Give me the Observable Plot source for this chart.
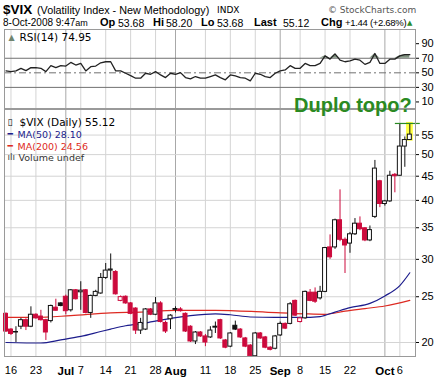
<!DOCTYPE html>
<html>
<head>
<meta charset="utf-8">
<script src="https://cdn.jsdelivr.net/npm/d3@7"></script>
<script src="https://cdn.jsdelivr.net/npm/@observablehq/plot@0.6"></script>
<style>
html,body{margin:0;padding:0;background:#fff;}
#wrap{position:relative;width:448px;height:378px;overflow:hidden;font-family:"Liberation Sans",Arial,sans-serif;color:#000;}
.t{position:absolute;white-space:nowrap;line-height:0.85;}
.b{font-weight:bold;font-size:11px;top:18.1px;}
.v{font-size:10.5px;top:18.5px;}
#rsi{position:absolute;left:0;top:28px;}
#main{position:absolute;left:0;top:108px;}
#rsi svg,#main svg{display:block;overflow:visible;}
</style>
</head>
<body>
<div id="wrap">
  <div class="t" style="left:3px;top:3.9px;font-size:13.5px;font-weight:bold;">$VIX</div>
  <div class="t" style="left:37px;top:5.9px;font-size:10.8px;">(Volatility Index - New Methodology)</div>
  <div class="t" style="left:217px;top:7.3px;font-size:9px;font-family:'DejaVu Sans';">INDX</div>
  <div class="t" style="left:328px;top:7px;font-size:9px;font-family:'DejaVu Sans';color:#555;">© StockCharts.com</div>
  <div class="t" style="left:3px;top:18.8px;font-size:10px;">8-Oct-2008 9:47<span style="font-size:9px">am</span></div>
  <div class="t b" style="left:100px;">Op</div>
  <div class="t v" style="left:118px;">53.68</div>
  <div class="t b" style="left:153px;">Hi</div>
  <div class="t v" style="left:166px;">58.20</div>
  <div class="t b" style="left:201px;">Lo</div>
  <div class="t v" style="left:217px;">53.68</div>
  <div class="t b" style="left:254px;">Last</div>
  <div class="t v" style="left:283px;">55.12</div>
  <div class="t b" style="left:321px;">Chg</div>
  <div class="t v" style="left:345px;font-size:9.5px;letter-spacing:-0.3px;top:19.3px;">+1.44 (+2.68%)</div>
  <div class="t" style="left:407px;top:20.6px;font-size:7px;color:#2a8a2a;font-family:'DejaVu Sans';">▲</div>
  <div id="rsi"></div>
  <div id="main"></div>
  <div class="t" style="left:294px;top:95px;font-size:20px;font-weight:bold;color:#2a8a22;line-height:1;">Duplo topo?</div>
</div>
<script>
// ---- data ----
const opens  = [23.0,21.3,21.05,21.6,22.3,21.6,22.9,22.7,22.3,22.2,23.7,24.2,25.0,23.4,25.8,25.55,25.8,23.1,25.1,25.4,
                27.4,28.4,28.2,24.5,25.0,24.2,23.6,21.2,21.3,23.5,22.9,24.2,22.0,22.4,23.45,23.5,23.0,21.6,20.1,21.0,
                20.6,20.5,21.5,22.3,20.2,19.6,21.7,21.3,20.4,19.7,18.7,20.9,20.5,19.5,19.4,20.7,21.9,21.9,24.5,22.1,
                22.5,25.5,25.5,24.8,25.6,31.8,31.8,36.3,33.0,32.4,33.9,35.7,34.9,32.9,36.9,43.9,39.3,39.8,45.3,45.1,
                52.0,53.68];
const highs  = [23.1,21.4,21.6,22.5,22.45,23.8,23.0,23.4,22.4,24.0,24.7,24.3,25.2,25.9,25.9,26.9,25.9,25.2,25.8,28.0,
                29.4,30.8,28.4,25.1,25.1,24.3,23.7,22.5,23.6,23.6,24.9,24.4,22.2,22.9,23.8,23.7,23.1,21.7,21.1,21.1,
                20.8,21.6,22.1,22.4,20.3,21.0,22.2,21.4,20.5,19.8,21.0,21.0,20.6,19.6,20.7,22.1,22.0,24.3,24.6,22.6,
                25.7,25.9,26.1,26.3,31.8,33.8,36.5,42.1,33.3,34.2,36.6,36.9,35.0,35.3,48.6,44.1,40.0,46.1,45.6,58.2,
                54.5,58.2];
const lows   = [21.0,20.7,20.0,21.3,21.2,21.5,22.4,22.2,20.2,22.0,23.3,23.8,22.9,23.2,24.6,23.4,23.0,22.5,25.0,25.3,
                27.2,27.1,25.2,24.4,24.1,22.9,20.8,20.8,21.2,22.8,22.8,22.0,20.9,21.3,23.1,23.2,21.0,20.0,19.8,20.5,
                19.6,20.4,20.9,20.3,19.4,19.5,21.2,20.4,19.5,18.6,18.6,20.3,19.4,19.2,19.3,20.6,21.3,21.8,22.7,22.0,
                22.4,24.4,24.2,24.6,25.5,30.0,31.5,32.7,28.0,30.9,33.7,34.5,32.7,32.7,36.6,38.6,38.9,39.6,41.5,45.0,
                47.0,53.68];
const closes = [21.1,20.85,21.0,22.3,21.6,22.9,22.5,22.3,21.0,23.9,23.35,23.9,23.3,25.8,24.7,25.75,23.1,25.1,25.6,27.4,
                28.4,28.55,25.3,24.95,24.2,23.0,21.2,22.0,23.5,22.9,24.2,22.1,21.1,22.8,23.55,23.3,21.1,20.1,21.0,20.6,
                20.0,21.2,21.6,20.4,19.5,20.9,21.3,20.5,19.6,18.7,20.9,20.4,19.5,19.3,20.6,21.9,21.4,24.1,22.8,22.5,
                25.6,24.5,24.4,25.6,31.7,30.3,36.3,33.0,32.1,33.9,35.7,34.75,32.9,34.6,46.7,39.3,39.8,45.1,45.0,52.0,
                53.68,55.12];
const priorClose = 23.0;

const rsi14 = [52.6,51.7,52.6,56.2,53.0,57.1,57.0,56.2,51.7,59.8,
               57.1,59.8,59.3,64.3,60.7,62.9,52.6,58.4,59.3,63.8,
               65.2,65.2,52.6,52.6,49.4,46.2,42.6,42.6,49.4,48.0,
               51.7,47.1,43.5,49.4,48.0,50.3,43.5,41.7,44.9,42.6,
               42.6,44.9,47.1,43.5,40.4,47.1,45.8,43.5,42.6,39.0,
               49.4,48.0,44.9,43.5,49.4,52.6,53.9,59.8,56.2,56.2,
               62.9,59.8,59.8,62.9,73.3,68.8,76.0,67.4,65.2,66.5,
               68.8,67.4,61.6,64.3,76.5,62.9,62.9,68.8,68.8,73.3,
               75.1,74.95];

const ma50Idx  = [0,7,11,15,19,21,24,28,33,37,42,45,49,54,59,63,66,69,73,76,79,81];
const ma50     = [20.0,19.95,20.25,20.6,21.1,21.35,21.7,22.0,22.5,22.8,23.0,22.9,22.65,22.6,22.6,22.7,23.2,23.7,24.2,25.1,26.4,28.1];
const ma200Idx = [0,6,13,21,27,34,42,52,60,64,68,72,76,81];
const ma200    = [22.6,22.6,22.8,23.1,23.2,23.4,23.4,23.2,23.0,22.95,23.3,23.6,23.9,24.56];

const dayTickIdx    = [1,6,15,20,25,30,40,45,50,59,64,69,79];
const dayTickLabels = ["16","23","7","14","21","28","11","18","25","8","15","22","6"];
const monthTickIdx    = [12,34,55,76];
const monthTickLabels = ["Jul","Aug","Sep","Oct"];
const priceTicks = [20,25,30,35,40,45,50,55];
const rsiTicks   = [10,30,50,70,90];

const doubleTop = 58.2;              // "Duplo topo?" level
const doubleTopSpan = [78.1, 83.1];  // bar index span of the marker line
const highlight = {x1: 80.35, x2: 81.7, lo: 53.4, hi: 58.5};

// ---- build ----
const RED = "#cc0a3c", BLK = "#111", NAVY = "#1c1c8c", MARED = "#dd2a22", GREEN = "#2a8a22";
const bars = opens.map((o, i) => {
  const prev = i ? closes[i - 1] : priorClose;
  return {i, open: o, high: highs[i], low: lows[i], close: closes[i],
          color: closes[i] < prev ? RED : BLK};
});
const rsiData = rsi14.map((v, i) => ({i, v}));
const ma50Data = ma50Idx.map((i, k) => ({i, v: ma50[k]}));
const ma200Data = ma200Idx.map((i, k) => ({i, v: ma200[k]}));
const dayMap = new Map(dayTickIdx.map((d, k) => [d, dayTickLabels[k]]));
const monMap = new Map(monthTickIdx.map((d, k) => [d, monthTickLabels[k]]));

const xDomain = [-0.3, 82.14];
const FONT = "'Liberation Sans', Arial, sans-serif";
const common = {width: 448, marginLeft: 4, marginRight: 33,
  style: {fontFamily: FONT, fontSize: "11px", color: "#000", background: "transparent", overflow: "visible"}};

const gridMarks = [
  Plot.gridX({ticks: dayTickIdx, stroke: "#d4d4d4", strokeOpacity: 1}),
  Plot.gridX({ticks: monthTickIdx, stroke: "#a8a8a8", strokeOpacity: 1})
];

const rsiPlot = Plot.plot({
  ...common, height: 80, marginTop: 1, marginBottom: 0,
  x: {type: "linear", domain: xDomain, axis: null},
  y: {type: "linear", domain: [1, 109.5]},
  marks: [
    ...gridMarks,
    Plot.ruleY([70, 30], {stroke: "#707070"}),
    Plot.ruleY([50], {stroke: "#707070", strokeDasharray: "7,3,2,3"}),
    Plot.areaY(rsiData, {x: "i", y1: () => 70, y2: d => Math.max(d.v, 70), fill: "#7f917f"}),
    Plot.line(rsiData, {x: "i", y: "v", stroke: "#222", strokeWidth: 1.3}),
    Plot.axisY({anchor: "right", ticks: rsiTicks, tickSize: 3, tickPadding: 3, label: null, fontSize: 11}),
    Plot.text(["▲"], {frameAnchor: "top-left", dx: 4, dy: 8, fontSize: 8, fill: "#6f846f", textAnchor: "start", lineAnchor: "middle", fontFamily: "DejaVu Sans"}),
    Plot.text(["RSI(14) 74.95"], {frameAnchor: "top-left", dx: 15, dy: 8, fontSize: 10.5, textAnchor: "start", lineAnchor: "middle", fontFamily: "DejaVu Sans"}),
    Plot.frame({stroke: "#9a9a9a"})
  ]
});
document.getElementById("rsi").appendChild(rsiPlot);

const mainPlot = Plot.plot({
  ...common, height: 270, marginTop: 1, marginBottom: 22,
  x: {type: "linear", domain: xDomain},
  y: {type: "log", domain: [18.68, 62.3]},
  marks: [
    ...gridMarks,
    Plot.gridY({ticks: priceTicks, stroke: "#d4d4d4", strokeOpacity: 1}),
    Plot.rect([highlight], {x1: "x1", x2: "x2", y1: "lo", y2: "hi", fill: "#ffff40"}),
    Plot.line(ma200Data, {x: "i", y: "v", stroke: MARED, strokeWidth: 1.2, curve: "monotone-x"}),
    Plot.line(ma50Data, {x: "i", y: "v", stroke: NAVY, strokeWidth: 1.2, curve: "monotone-x"}),
    Plot.ruleX(bars, {x: "i", y1: "low", y2: "high", stroke: "color", strokeWidth: 1}),
    Plot.rect(bars, {x1: d => d.i - 0.4, x2: d => d.i + 0.4, y1: "open", y2: "close",
                     fill: d => d.close < d.open ? d.color : "#fff", stroke: "color", strokeWidth: 1}),
    Plot.ruleY([doubleTop], {x1: doubleTopSpan[0], x2: doubleTopSpan[1], stroke: GREEN, strokeWidth: 1.2}),
    Plot.axisY({anchor: "right", ticks: priceTicks, tickFormat: d => String(d), tickSize: 3, tickPadding: 3, label: null, fontSize: 11}),
    Plot.axisX({anchor: "bottom", ticks: dayTickIdx, tickFormat: d => dayMap.get(d), tickSize: 0, tickPadding: 10, label: null, fontSize: 11}),
    Plot.axisX({anchor: "bottom", ticks: monthTickIdx, tickFormat: d => monMap.get(d), tickSize: 0, tickPadding: 10, label: null, fontSize: 11.5, fontWeight: "bold"}),
    Plot.text(["▯"], {frameAnchor: "top-left", dx: 3, dy: 13, fontSize: 9, textAnchor: "start", lineAnchor: "middle", fontFamily: "DejaVu Sans"}),
    Plot.text(["$VIX (Daily) 55.12"], {frameAnchor: "top-left", dx: 15, dy: 13, fontSize: 10.5, textAnchor: "start", lineAnchor: "middle", fontFamily: "DejaVu Sans"}),
    Plot.text(["━"], {frameAnchor: "top-left", dx: 3, dy: 25, fontSize: 9, fill: NAVY, textAnchor: "start", lineAnchor: "middle", fontFamily: "DejaVu Sans"}),
    Plot.text(["MA(50) 28.10"], {frameAnchor: "top-left", dx: 13, dy: 25, fontSize: 9.5, fill: NAVY, textAnchor: "start", lineAnchor: "middle", fontFamily: "DejaVu Sans"}),
    Plot.text(["━"], {frameAnchor: "top-left", dx: 3, dy: 37, fontSize: 9, fill: MARED, textAnchor: "start", lineAnchor: "middle", fontFamily: "DejaVu Sans"}),
    Plot.text(["MA(200) 24.56"], {frameAnchor: "top-left", dx: 13, dy: 37, fontSize: 9.5, fill: MARED, textAnchor: "start", lineAnchor: "middle", fontFamily: "DejaVu Sans"}),
    Plot.text(["ılı"], {frameAnchor: "top-left", dx: 3, dy: 48, fontSize: 9, fill: "#444", textAnchor: "start", lineAnchor: "middle", fontFamily: "DejaVu Sans"}),
    Plot.text(["Volume undef"], {frameAnchor: "top-left", dx: 14, dy: 48, fontSize: 9.5, fill: "#333", textAnchor: "start", lineAnchor: "middle", fontFamily: "DejaVu Sans"}),
    Plot.frame({stroke: "#9a9a9a"})
  ]
});
document.getElementById("main").appendChild(mainPlot);
</script>
</body>
</html>
